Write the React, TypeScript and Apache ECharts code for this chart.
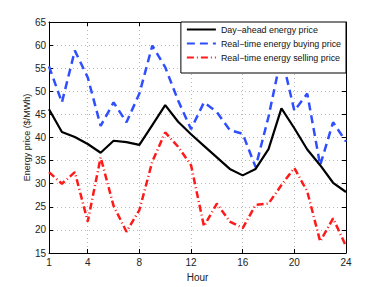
import React, { useEffect, useRef } from "react";
import * as echarts from "echarts";

const hours = Array.from({ length: 24 }, (_, i) => i + 1);
const dayAhead = [46.1, 41.2, 40.1, 38.6, 36.7, 39.3, 39.0, 38.4, 42.7, 47.0, 43.4, 40.7, 38.2, 35.7, 33.2, 31.8, 33.2, 37.5, 46.3, 42.0, 37.4, 34.0, 30.2, 28.2];
const rtBuying = [55.4, 47.6, 58.8, 53.0, 42.5, 47.6, 43.3, 49.5, 59.9, 55.2, 48.0, 41.8, 47.6, 45.5, 41.6, 40.8, 33.6, 44.5, 57.8, 45.8, 49.5, 34.0, 43.3, 39.1];
const rtSelling = [32.5, 30.0, 32.5, 21.8, 35.7, 25.2, 19.6, 24.3, 34.8, 41.1, 38.0, 34.0, 20.8, 25.7, 21.8, 20.4, 25.4, 25.7, 29.7, 33.4, 28.3, 17.5, 22.5, 16.5];
const xTicks = [1, 4, 8, 12, 16, 20, 24];
const seriesNames = ["Day\u2212ahead energy price", "Real\u2212time energy buying price", "Real\u2212time energy selling price"];

export default function App() {
  const ref = useRef<HTMLDivElement>(null);
  useEffect(() => {
    const chart = echarts.init(ref.current!, null, { renderer: "svg" });
    const font = "Liberation Sans, Arial, sans-serif";
    const pair = (arr: number[]) => hours.map((h, i) => [h, arr[i]]);
    const gridLine = { show: true, lineStyle: { color: "#b8b8b8", type: [1, 3] as any, width: 1 } };
    chart.setOption({
      animation: false,
      textStyle: { fontFamily: font },
      grid: { left: 49, right: 36, top: 22, bottom: 32, show: false },
      legend: {
        orient: "vertical",
        right: 36,
        top: 22,
        padding: [3, 5, 11, 5],
        itemGap: 5,
        itemWidth: 29,
        itemHeight: 11,
        backgroundColor: "#fff",
        borderColor: "#000",
        borderWidth: 1,
        itemStyle: { opacity: 0 },
        textStyle: { fontFamily: font, fontSize: 8.9, color: "#111" },
        data: seriesNames,
      },
      xAxis: [
        {
          type: "value",
          min: 1,
          max: 24,
          name: "Hour",
          nameLocation: "middle",
          nameGap: 19,
          nameTextStyle: { fontSize: 10, color: "#222", fontFamily: font },
          axisLine: { show: true, lineStyle: { color: "#000", width: 1 } },
          axisTick: { show: true, inside: true, length: 4, customValues: xTicks, lineStyle: { color: "#000" } },
          axisLabel: { customValues: xTicks, fontSize: 10, color: "#222", margin: 4, fontFamily: font },
          splitLine: gridLine,
        },
        {
          type: "value",
          min: 1,
          max: 24,
          position: "top",
          axisLine: { show: true, onZero: false, lineStyle: { color: "#000", width: 1 } },
          axisTick: { show: true, inside: true, length: 4, customValues: xTicks, lineStyle: { color: "#000" } },
          axisLabel: { show: false },
          splitLine: { show: false },
        },
      ],
      yAxis: [
        {
          type: "value",
          min: 15,
          max: 65,
          interval: 5,
          name: "Energy price ($/MWh)",
          nameLocation: "middle",
          nameGap: 18,
          nameMoveOverlap: false,
          nameTextStyle: { fontSize: 9, color: "#222", fontFamily: font },
          axisLine: { show: true, onZero: false, lineStyle: { color: "#000", width: 1 } },
          axisTick: { show: true, inside: true, length: 4, lineStyle: { color: "#000" } },
          axisLabel: { fontSize: 10, color: "#222", margin: 3, fontFamily: font },
          splitLine: gridLine,
        },
        {
          type: "value",
          min: 15,
          max: 65,
          interval: 5,
          position: "right",
          axisLine: { show: true, onZero: false, lineStyle: { color: "#000", width: 1 } },
          axisTick: { show: true, inside: true, length: 4, lineStyle: { color: "#000" } },
          axisLabel: { show: false },
          splitLine: { show: false },
        },
      ],
      series: [
        {
          name: seriesNames[0],
          type: "line",
          data: pair(dayAhead),
          symbol: "none",
          color: "#000",
          lineStyle: { color: "#000", width: 2.2 },
          z: 3,
        },
        {
          name: seriesNames[1],
          type: "line",
          data: pair(rtBuying),
          symbol: "none",
          color: "#2f4fff",
          lineStyle: { color: "#2f4fff", width: 2.5, type: [8, 5] },
          z: 2,
        },
        {
          name: seriesNames[2],
          type: "line",
          data: pair(rtSelling),
          symbol: "none",
          color: "#ff1a1a",
          lineStyle: { color: "#ff1a1a", width: 2.5, type: [7, 3, 1, 3] },
          z: 2,
        },
      ],
    });
    return () => chart.dispose();
  }, []);
  return <div ref={ref} style={{ position: "fixed", left: 0, top: 0, width: 382, height: 287, background: "#fff" }} />;
}
